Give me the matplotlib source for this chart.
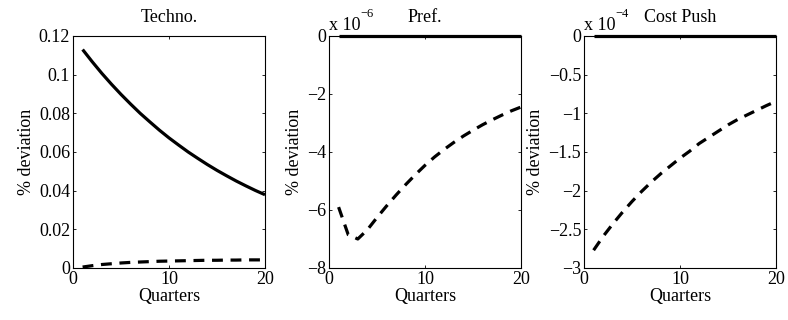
import numpy as np
import matplotlib
matplotlib.use("Agg")
import matplotlib.pyplot as plt

# ================================
# DATA
# ================================
quarters = list(range(1, 21))

techno_solid = [0.1130, 0.1067, 0.1007, 0.0951, 0.0898, 0.0848, 0.0800, 0.0756, 0.0713, 0.0673,
                0.0636, 0.0600, 0.0567, 0.0535, 0.0505, 0.0477, 0.0450, 0.0425, 0.0401, 0.0379]
techno_dashed = [0.0005, 0.0012, 0.0018, 0.0022, 0.0026, 0.0029, 0.0031, 0.0033, 0.0035, 0.0036,
                 0.0037, 0.0038, 0.0039, 0.0040, 0.0040, 0.0041, 0.0041, 0.0042, 0.0042, 0.0042]

# units of 1e-6
pref_solid = [0.0] * 20
pref_dashed = [-5.90, -6.85, -7.00, -6.68, -6.26, -5.86, -5.48, -5.12, -4.78, -4.46,
               -4.17, -3.91, -3.67, -3.45, -3.25, -3.06, -2.89, -2.73, -2.58, -2.45]

# units of 1e-4
cost_solid = [0.0] * 20
cost_dashed = [-2.77, -2.59, -2.43, -2.28, -2.14, -2.01, -1.89, -1.78, -1.68, -1.58,
               -1.49, -1.39, -1.31, -1.23, -1.15, -1.08, -1.02, -0.96, -0.90, -0.845]

titles = ["Techno.", "Pref.", "Cost Push"]
yticks_list = [[0, 0.02, 0.04, 0.06, 0.08, 0.1, 0.12],
               [-8, -6, -4, -2, 0],
               [-3, -2.5, -2, -1.5, -1, -0.5, 0]]
ytick_labels = [["0", "0.02", "0.04", "0.06", "0.08", "0.1", "0.12"],
                ["\u22128", "\u22126", "\u22124", "\u22122", "0"],
                ["\u22123", "\u22122.5", "\u22122", "\u22121.5", "\u22121", "\u22120.5", "0"]]
ylims = [(0, 0.12), (-8, 0), (-3, 0)]
exponents = [None, "\u22126", "\u22124"]

plt.rcParams["font.family"] = ["Liberation Serif", "DejaVu Serif"]
plt.rcParams["font.size"] = 13

fig = plt.figure(figsize=(7.88, 3.2), dpi=100)
W, H = 788.0, 320.0
lefts = [73, 329, 584]
ax_w = 192
top, bottom = 36, 268

series = [(techno_solid, techno_dashed), (pref_solid, pref_dashed), (cost_solid, cost_dashed)]

for i in range(3):
    ax = fig.add_axes([lefts[i] / W, 1 - bottom / H, ax_w / W, (bottom - top) / H])
    solid, dashed = series[i]
    ax.plot(quarters, solid, color="black", lw=2.3, solid_capstyle="butt", clip_on=False, zorder=3)
    ax.plot(quarters, dashed, color="black", lw=2.3, linestyle=(0, (3.4, 2.4)), clip_on=False, zorder=3)
    ax.set_xlim(0, 20)
    ax.set_ylim(*ylims[i])
    ax.set_xticks([0, 10, 20])
    ax.set_xticklabels(["0", "10", "20"])
    ax.set_yticks(yticks_list[i])
    ax.set_yticklabels(ytick_labels[i])
    ax.tick_params(direction="in", top=True, right=True, length=2.5, width=0.6, pad=2)
    for sp in ax.spines.values():
        sp.set_linewidth(0.8)
    ax.set_title(titles[i], fontsize=13, pad=10)
    ax.set_xlabel("Quarters", labelpad=0)
    ax.set_ylabel("% deviation", labelpad=3)
    if exponents[i]:
        # MATLAB-style exponent label above the y axis
        ax.annotate("x 10", xy=(0, 1), xycoords="axes fraction", xytext=(0, 4.3),
                    textcoords="offset points", ha="left", va="baseline", fontsize=13)
        ax.annotate(exponents[i], xy=(0, 1), xycoords="axes fraction", xytext=(22.5, 13.5),
                    textcoords="offset points", ha="left", va="baseline", fontsize=9)

fig.savefig("out.png", dpi=100)
